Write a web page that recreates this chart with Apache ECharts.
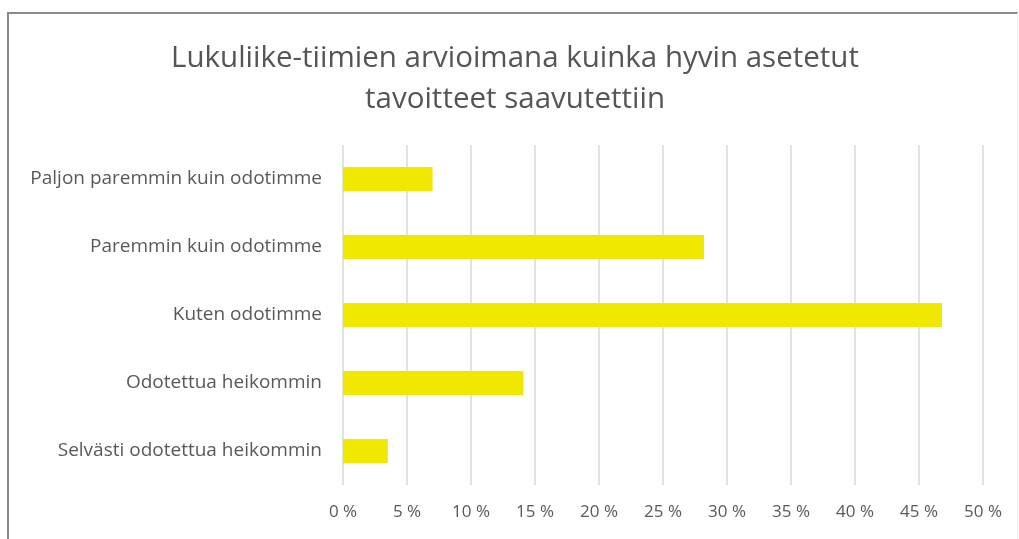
<!DOCTYPE html>
<html>
<head>
<meta charset="utf-8">
<script src="https://cdn.jsdelivr.net/npm/echarts@6/dist/echarts.min.js"></script>
<style>
html,body{margin:0;padding:0;background:#fff;}
#frame{position:absolute;left:7px;top:12px;width:1008px;height:540px;border-left:2px solid #8a8a8a;border-top:2px solid #8a8a8a;border-right:1px solid #ececec;}
#chart{position:absolute;left:0;top:0;width:1019px;height:539px;}
</style>
</head>
<body>
<div id="frame"></div>
<div id="chart"></div>
<script>
var titleText = 'Lukuliike-tiimien arvioimana kuinka hyvin asetetut\ntavoitteet saavutettiin';
var categories = ['Selvästi odotettua heikommin', 'Odotettua heikommin', 'Kuten odotimme', 'Paremmin kuin odotimme', 'Paljon paremmin kuin odotimme'];
var values = [3.5, 14.1, 46.8, 28.2, 7.0];
var tickMin = 0, tickMax = 50, tickStep = 5;

var chart = echarts.init(document.getElementById('chart'));
chart.setOption({
  animation: false,
  title: {
    text: titleText,
    left: 510, textAlign: 'center', top: 33,
    textStyle: {fontFamily: 'Open Sans', fontSize: 29.5, fontWeight: 'normal', color: '#555555', lineHeight: 41}
  },
  grid: {left: 343, right: 36, top: 145, bottom: 54, containLabel: false},
  xAxis: {
    type: 'value', min: tickMin, max: tickMax, interval: tickStep,
    axisLine: {show: false}, axisTick: {show: false},
    splitLine: {lineStyle: {color: '#d9d9d9', width: 1.5}},
    axisLabel: {formatter: '{value} %', color: '#595959', fontFamily: 'Open Sans', fontSize: 17, margin: 19}
  },
  yAxis: {
    type: 'category', data: categories,
    axisLine: {show: false}, axisTick: {show: false},
    axisLabel: {color: '#595959', fontFamily: 'Open Sans', fontSize: 19, margin: 21}
  },
  series: [{
    type: 'bar', data: values, barWidth: 24,
    itemStyle: {color: '#F0E800'}
  }]
});
</script>
</body>
</html>
